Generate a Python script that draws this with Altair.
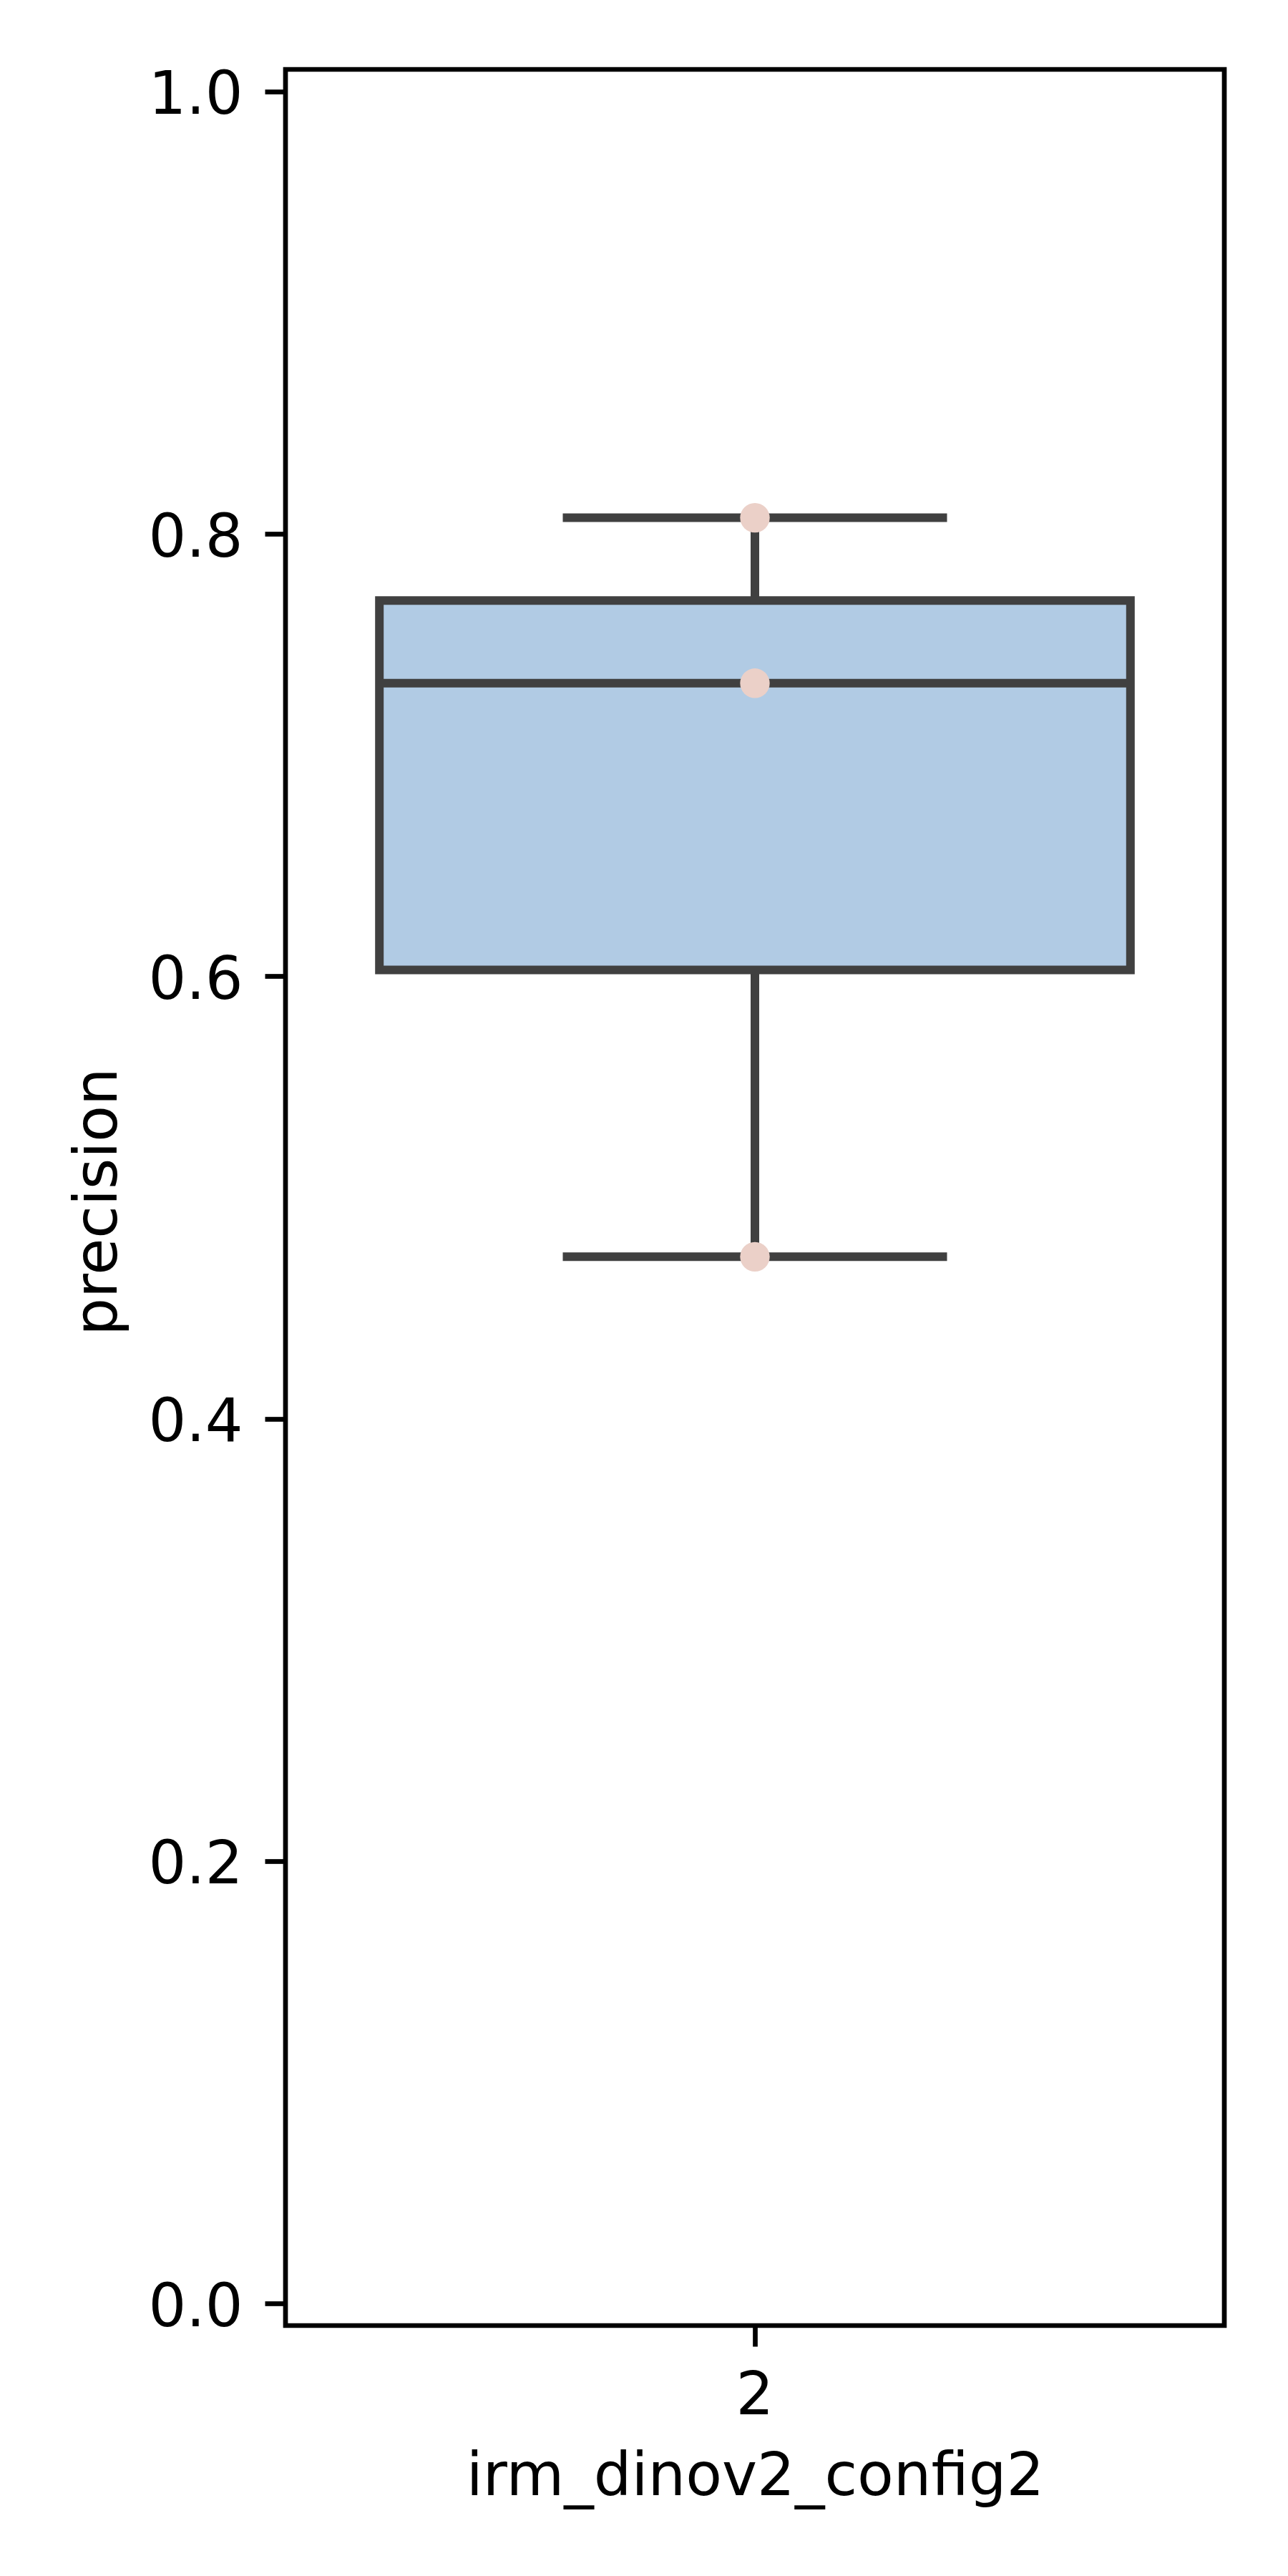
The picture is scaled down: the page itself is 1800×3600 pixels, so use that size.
import altair as alt
import pandas as pd

# ---- data ----
category = ["2"]
precision = [0.8073, 0.7325, 0.4732]
x_title = "irm_dinov2_config2"
y_title = "precision"
y_ticks = [0.0, 0.2, 0.4, 0.6, 0.8, 1.0]

df = pd.DataFrame({"config": category * len(precision), "precision": precision})

W, H = 1312, 3153
LINE = "#404040"
BOX_FILL = "#b1cbe4"
POINT = "#ebd0c8"
FONT = "DejaVu Sans"
FS = 83
LW = 12

xscale = alt.Scale(domain=category, paddingInner=0, paddingOuter=0)
yscale = alt.Scale(domain=[-0.01, 1.01], nice=False, zero=False)

x_enc = alt.X(
    "config:N",
    scale=xscale,
    title=x_title,
    axis=alt.Axis(
        labelAngle=0,
        labelFont=FONT,
        labelFontSize=FS,
        labelColor="black",
        labelPadding=28,
        tickSize=29,
        tickWidth=6.7,
        tickColor="black",
        domain=False,
        grid=False,
        titleFont=FONT,
        titleFontSize=FS,
        titleFontWeight="normal",
        titleColor="black",
        titleBaseline="alphabetic",
        titleY=236,
    ),
)

y_axis = alt.Axis(
    values=y_ticks,
    format=".1f",
    labelFont=FONT,
    labelFontSize=FS,
    labelColor="black",
    labelPadding=31,
    labelBaseline="alphabetic",
    labelOffset=31,
    tickSize=29,
    tickWidth=6.7,
    tickColor="black",
    domain=False,
    grid=False,
    titleFont=FONT,
    titleFontSize=FS,
    titleFontWeight="normal",
    titleColor="black",
    titleBaseline="alphabetic",
    titleAlign="center",
    titleX=-237,
    titleY=1582,
)


def yq(field):
    return alt.Y(f"{field}:Q", scale=yscale, axis=y_axis, title=y_title)


base = alt.Chart(df)

stats = (
    base.transform_joinaggregate(
        q1="q1(precision)", q3="q3(precision)", groupby=["config"]
    )
    .transform_calculate(
        lof="datum.q1 - 1.5 * (datum.q3 - datum.q1)",
        hif="datum.q3 + 1.5 * (datum.q3 - datum.q1)",
    )
    .transform_filter("datum.precision >= datum.lof && datum.precision <= datum.hif")
    .transform_aggregate(
        q1="min(q1)",
        q3="min(q3)",
        lo="min(precision)",
        hi="max(precision)",
        groupby=["config"],
    )
)
med = base.transform_aggregate(med="median(precision)", groupby=["config"])

whisk_lo = stats.mark_rule(color=LINE, strokeWidth=LW).encode(
    x=x_enc, y=yq("lo"), y2="q1:Q"
)
whisk_hi = stats.mark_rule(color=LINE, strokeWidth=LW).encode(
    x=x_enc, y=yq("q3"), y2="hi:Q"
)
box = stats.mark_bar(
    width=alt.RelativeBandSize(0.8),
    fill=BOX_FILL,
    stroke=LINE,
    strokeWidth=LW,
    opacity=1,
).encode(x=x_enc, y=yq("q1"), y2="q3:Q")
cap_lo = stats.mark_tick(
    color=LINE, size=537, thickness=LW, opacity=1, orient="horizontal"
).encode(x=x_enc, y=yq("lo"))
cap_hi = stats.mark_tick(
    color=LINE, size=537, thickness=LW, opacity=1, orient="horizontal"
).encode(x=x_enc, y=yq("hi"))
median = med.mark_tick(
    color=LINE, size=1050, thickness=LW, opacity=1, orient="horizontal"
).encode(x=x_enc, y=yq("med"))
points = base.mark_circle(size=1714, color=POINT, opacity=1).encode(
    x=x_enc, y=yq("precision")
)

chart = (
    alt.layer(whisk_lo, whisk_hi, box, cap_lo, cap_hi, median, points)
    .properties(
        width=W,
        height=H,
        autosize=alt.AutoSizeParams(type="none"),
        padding={"left": 391, "top": 89, "right": 80, "bottom": 340},
        background="white",
    )
    .configure_view(stroke="black", strokeWidth=6.7, fill="white")
)

chart.save("out.html", embed_options={"renderer": "svg", "actions": False})
